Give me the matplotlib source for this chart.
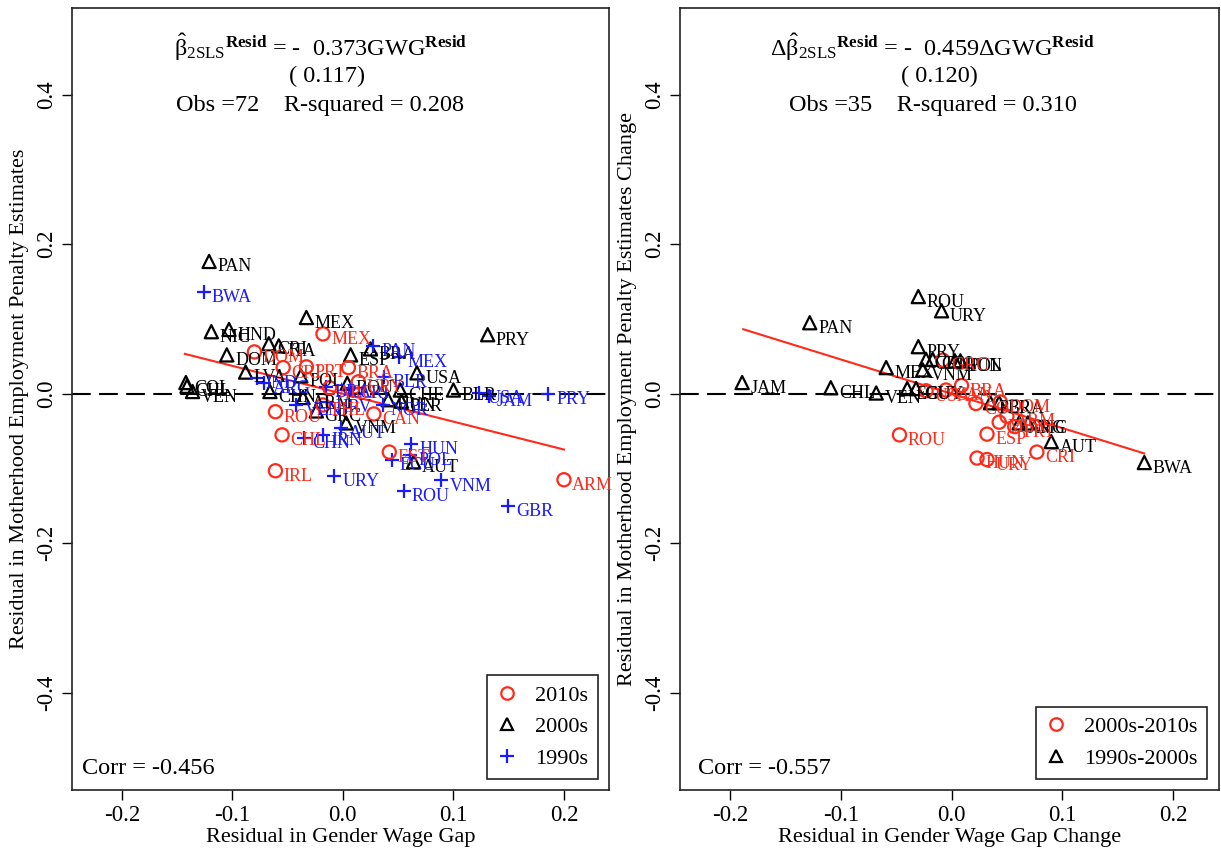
import matplotlib.pyplot as plt
from matplotlib.lines import Line2D
import numpy as np

plt.rcParams['font.family'] = ['Liberation Serif', 'DejaVu Serif']
plt.rcParams['mathtext.fontset'] = 'custom'
plt.rcParams['mathtext.rm'] = 'Liberation Serif'
plt.rcParams['mathtext.it'] = 'Liberation Serif:italic'
plt.rcParams['mathtext.bf'] = 'Liberation Serif:bold'

RED = '#ff2a1a'
BLUE = '#1a1aff'

# ---- left panel: levels ----
l2010_codes = ['MEX', 'DOM', 'CRI', 'PRT', 'BRA', 'URY', 'ARG', 'PHL', 'ROU', 'CAN', 'IRL', 'CHL', 'EST', 'ARM']
l2010_x = [-0.018, -0.080, -0.054, -0.033, 0.005, 0.014, -0.012, -0.018, -0.061, 0.028, -0.061, -0.055, 0.042, 0.200]
l2010_y = [0.080, 0.056, 0.035, 0.036, 0.035, 0.016, 0.008, -0.015, -0.024, -0.027, -0.103, -0.055, -0.078, -0.115]

l2000_codes = ['PAN', 'NIC', 'HND', 'MEX', 'CRI', 'ITA', 'DOM', 'ESP', 'BRA', 'USA', 'LVA', 'POL', 'COL',
               'CHL', 'VEN', 'CHN', 'ROU', 'ARM', 'CHE', 'BLR', 'PRY', 'GRC', 'VNM', 'AUT', 'HUN', 'PER']
l2000_x = [-0.121, -0.119, -0.103, -0.033, -0.067, -0.058, -0.105, 0.007, 0.025, 0.067, -0.088, -0.038, -0.142,
           -0.141, -0.136, -0.066, 0.004, -0.036, 0.052, 0.100, 0.131, -0.024, 0.003, 0.064, 0.041, 0.053]
l2000_y = [0.177, 0.083, 0.086, 0.102, 0.067, 0.064, 0.052, 0.052, 0.060, 0.028, 0.029, 0.024, 0.015,
           0.010, 0.003, 0.003, 0.014, -0.005, 0.005, 0.005, 0.079, -0.023, -0.039, -0.091, -0.008, -0.010]

l1990_codes = ['BWA', 'PAN', 'MEX', 'BLR', 'USA', 'JAM', 'PRY', 'HUN', 'POL', 'ECU', 'VNM', 'ROU', 'GBR',
               'URY', 'CHN', 'IND', 'ARG', 'VEN', 'IRN', 'AUT', 'HRV', 'NOR', 'BRA', 'CRI']
l1990_x = [-0.126, 0.027, 0.051, 0.037, 0.123, 0.132, 0.186, 0.062, 0.061, 0.044, 0.089, 0.055, 0.149,
           -0.008, -0.035, -0.078, -0.071, -0.042, -0.018, -0.002, -0.014, 0.036, -0.015, 0.007]
l1990_y = [0.136, 0.064, 0.049, 0.023, 0.001, -0.003, 0.000, -0.067, -0.082, -0.088, -0.116, -0.130, -0.150,
           -0.110, -0.059, 0.021, 0.015, -0.015, -0.055, -0.046, -0.011, -0.015, 0.009, 0.008]

left_slope, left_icpt = -0.373, 0.0
left_fit_x = [-0.143, 0.200]

# ---- right panel: changes ----
r2010_codes = ['GRC', 'USA', 'BRA', 'COL', 'DOM', 'MEX', 'PRT', 'ESP', 'CRI', 'HUN', 'URY', 'ROU', 'ARM', 'CAN']
r2010_x = [-0.008, -0.023, 0.009, 0.022, 0.044, 0.043, 0.057, 0.032, 0.077, 0.023, 0.032, -0.047, 0.050, -0.005]
r2010_y = [0.045, 0.004, 0.011, -0.013, -0.011, -0.038, -0.044, -0.054, -0.078, -0.086, -0.088, -0.055, -0.030, 0.005]

r2000_codes = ['PAN', 'ROU', 'URY', 'PRY', 'JAM', 'CHL', 'VEN', 'MEX', 'VNM', 'CRI', 'COL', 'HUN', 'POL',
               'ECU', 'GUY', 'PER', 'BRA', 'ARG', 'NIC', 'AUT', 'BWA']
r2000_x = [-0.128, -0.030, -0.009, -0.030, -0.189, -0.109, -0.068, -0.059, -0.026, -0.023, -0.017, 0.003, 0.008,
           -0.040, -0.032, 0.035, 0.043, 0.061, 0.069, 0.090, 0.174]
r2000_y = [0.095, 0.130, 0.111, 0.063, 0.015, 0.008, 0.001, 0.035, 0.032, 0.046, 0.046, 0.044, 0.044,
           0.007, 0.007, -0.012, -0.012, -0.039, -0.039, -0.064, -0.092]

right_slope, right_icpt = -0.459, 0.0
right_fit_x = [-0.188, 0.174]


def scatter_labeled(ax, xs, ys, codes, marker, color):
    ax.scatter(xs, ys, marker=marker, s=90, facecolors='none' if marker != '+' else color,
               edgecolors=color if marker != '+' else None, color=color, linewidths=1.6, zorder=3)
    for x, y, c in zip(xs, ys, codes):
        ax.annotate(c, (x, y), xytext=(6, -4), textcoords='offset points',
                    fontsize=13, color=color, va='center', ha='left', zorder=4)


def style_axes(ax, xlabel, ylabel):
    ax.set_xlim(-0.245, 0.241)
    ax.set_ylim(-0.530, 0.516)
    ax.set_xticks([-0.2, -0.1, 0.0, 0.1, 0.2])
    ax.set_xticklabels(['-0.2', '-0.1', '0.0', '0.1', '0.2'])
    ax.set_yticks([-0.4, -0.2, 0.0, 0.2, 0.4])
    ax.set_yticklabels(['-0.4', '-0.2', '0.0', '0.2', '0.4'], rotation=90, va='center')
    ax.tick_params(direction='out', length=7, width=1, labelsize=16.5, pad=4)
    for s in ax.spines.values():
        s.set_linewidth(1.2)
        s.set_color('#222222')
    ax.set_xlabel(xlabel, fontsize=16, labelpad=1)
    ax.set_ylabel(ylabel, fontsize=16, labelpad=5)
    ax.axhline(0, color='black', lw=1.5, ls=(0, (9, 4)), zorder=1)


fig = plt.figure(figsize=(12.21, 8.5), dpi=100)
ax1 = fig.add_axes([0.059, 0.0706, 0.440, 0.920])
ax2 = fig.add_axes([0.557, 0.0706, 0.441, 0.920])

TXT = 17.5

# left
style_axes(ax1, 'Residual in Gender Wage Gap', 'Residual in Motherhood Employment Penalty Estimates')
fx = np.array(left_fit_x)
ax1.plot(fx, left_icpt + left_slope * fx, color=RED, lw=1.5, zorder=2)
scatter_labeled(ax1, l2000_x, l2000_y, l2000_codes, '^', 'black')
scatter_labeled(ax1, l1990_x, l1990_y, l1990_codes, '+', BLUE)
scatter_labeled(ax1, l2010_x, l2010_y, l2010_codes, 'o', RED)
ax1.text(0.462, 0.950, r'$\hat{\mathrm{\beta}}_{\mathrm{2SLS}}{}^{\mathbf{Resid}}$ = -  0.373GWG$^{\mathbf{Resid}}$',
         transform=ax1.transAxes, ha='center', va='center', fontsize=TXT)
ax1.text(0.474, 0.913, '( 0.117)', transform=ax1.transAxes, ha='center', va='center', fontsize=TXT)
ax1.text(0.462, 0.875, 'Obs =72    R-squared = 0.208', transform=ax1.transAxes, ha='center', va='center', fontsize=TXT)
ax1.text(0.019, 0.028, 'Corr = -0.456', transform=ax1.transAxes, ha='left', va='center', fontsize=TXT)
h1 = [Line2D([], [], marker='o', ls='none', mfc='none', mec=RED, mew=1.6, ms=9),
      Line2D([], [], marker='^', ls='none', mfc='none', mec='black', mew=1.6, ms=9),
      Line2D([], [], marker='+', ls='none', color=BLUE, mew=1.6, ms=10)]
leg1 = ax1.legend(h1, ['2010s', '2000s', '1990s'], loc='lower right', fontsize=16, fancybox=False,
                  edgecolor='#222222', framealpha=1, handlelength=0.9, handletextpad=0.8,
                  labelspacing=0.5, borderaxespad=0.5, borderpad=0.45)
leg1.get_frame().set_linewidth(1.2)

# right
style_axes(ax2, 'Residual in Gender Wage Gap Change', 'Residual in Motherhood Employment Penalty Estimates Change')
fx = np.array(right_fit_x)
ax2.plot(fx, right_icpt + right_slope * fx, color=RED, lw=1.5, zorder=2)
scatter_labeled(ax2, r2000_x, r2000_y, r2000_codes, '^', 'black')
scatter_labeled(ax2, r2010_x, r2010_y, r2010_codes, 'o', RED)
# the "9" sits in its own math group so mathtext does not kern it against the "5"
ax2.text(0.468, 0.950, r'$\Delta\hat{\mathrm{\beta}}_{\mathrm{2SLS}}{}^{\mathbf{Resid}}$ = -  0.45$\mathrm{9}$ΔGWG$^{\mathbf{Resid}}$',
         transform=ax2.transAxes, ha='center', va='center', fontsize=TXT)
ax2.text(0.482, 0.913, '( 0.120)', transform=ax2.transAxes, ha='center', va='center', fontsize=TXT)
ax2.text(0.470, 0.875, 'Obs =35    R-squared = 0.310', transform=ax2.transAxes, ha='center', va='center', fontsize=TXT)
ax2.text(0.033, 0.028, 'Corr = -0.557', transform=ax2.transAxes, ha='left', va='center', fontsize=TXT)
h2 = [Line2D([], [], marker='o', ls='none', mfc='none', mec=RED, mew=1.6, ms=9),
      Line2D([], [], marker='^', ls='none', mfc='none', mec='black', mew=1.6, ms=9)]
leg2 = ax2.legend(h2, ['2000s-2010s', '1990s-2000s'], loc='lower right', fontsize=16, fancybox=False,
                  edgecolor='#222222', framealpha=1, handlelength=0.9, handletextpad=0.8,
                  labelspacing=0.5, borderaxespad=0.5, borderpad=0.45)
leg2.get_frame().set_linewidth(1.2)

fig.savefig('out.png', dpi=100)
